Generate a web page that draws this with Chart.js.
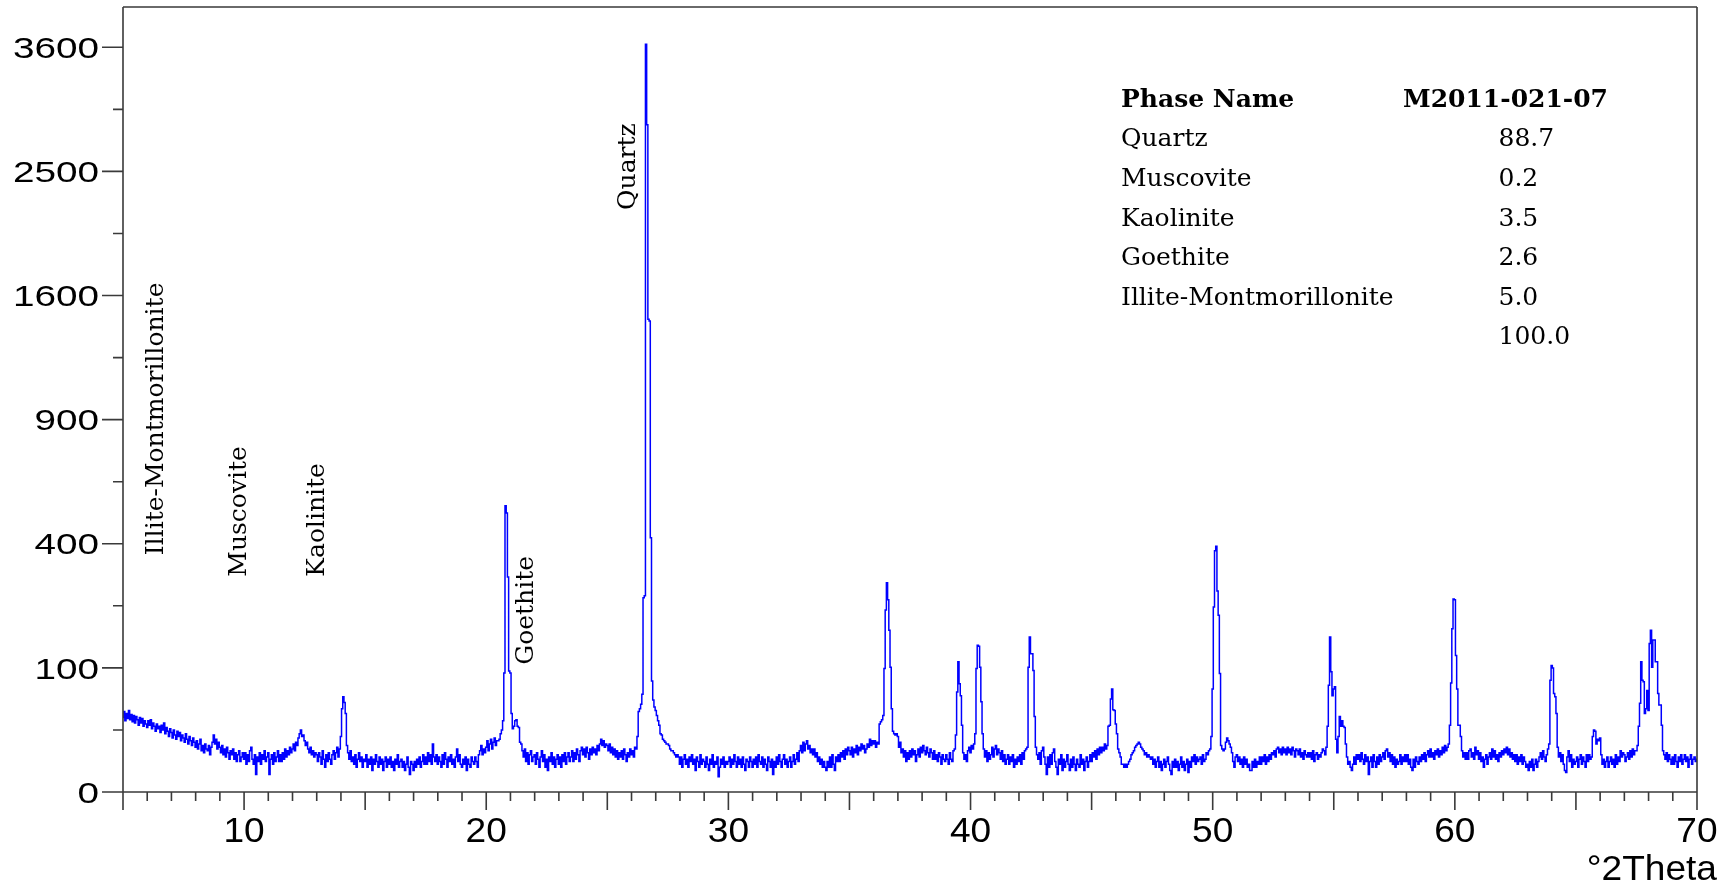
<!DOCTYPE html>
<html>
<head>
<meta charset="utf-8">
<title>XRD pattern M2011-021-07</title>
<script src="https://cdn.jsdelivr.net/npm/chart.js@4/dist/chart.umd.min.js"></script>
<style>
  html, body { margin: 0; padding: 0; background: #ffffff; }
  canvas { display: block; }
</style>
</head>
<body>
<canvas id="xrd" width="1720" height="891"></canvas>
<script>
// ---- scan: counts per 0.05 deg step, 2Theta 5.00 .. 70.00 ----
const scanStart = 5;
const scanStep = 0.05;

const counts05 = [
  36, 42, 33, 40, 35, 43, 34, 39, 32, 38,
  31, 37, 34, 29, 36, 31, 35, 28, 33, 30,
  27, 33, 29, 34, 26, 31, 28, 24, 30, 26,
  28, 23, 29, 25, 31, 22, 27, 24, 20, 26,
  23, 19, 25, 21, 18, 24, 20, 23, 17, 21,
  19, 16, 22, 18, 15, 20, 17, 14, 19, 16,
  13, 17, 12, 15, 18, 11, 14, 10, 15, 12,
  11, 14, 9, 13, 16, 21, 15, 18, 12, 16,
  13, 10, 14, 9, 12, 8, 13, 10, 7, 11,
  9, 12, 7, 10, 6, 9, 11, 6, 8, 10
];
const counts10 = [
  7, 10, 5, 9, 6, 11, 13, 7, 5, 9,
  2, 8, 6, 10, 5, 9, 7, 11, 6, 8,
  10, 2, 7, 9, 5, 10, 6, 8, 11, 6,
  9, 6, 10, 7, 12, 8, 11, 9, 13, 10,
  12, 15, 11, 16, 14, 19, 22, 25, 20, 21,
  17, 14, 16, 12, 10, 13, 9, 11, 8, 10,
  9, 6, 10, 8, 5, 11, 7, 4, 9, 6,
  10, 7, 5, 9, 11, 7, 10, 13, 8, 12,
  20, 45, 59, 52, 40, 14, 10, 7, 11, 6,
  8, 5, 9, 4, 7, 10, 6, 8, 4, 7
];
const counts15 = [
  6, 9, 4, 7, 5, 8, 3, 7, 5, 9,
  6, 4, 8, 5, 7, 3, 6, 8, 4, 7,
  5, 8, 4, 6, 3, 7, 5, 9, 4, 6,
  7, 4, 6, 3, 5, 8, 4, 2, 6, 5,
  3, 6, 4, 7, 5, 8, 4, 6, 9, 5,
  8, 5, 10, 6, 9, 5, 15, 8, 6, 9,
  5, 8, 6, 4, 9, 5, 10, 7, 4, 8,
  6, 9, 5, 7, 4, 8, 12, 6, 9, 5,
  4, 7, 5, 8, 3, 7, 5, 4, 8, 6,
  5, 8, 6, 4, 9, 11, 14, 9, 12, 10
];
const counts20 = [
  13, 17, 11, 15, 18, 12, 16, 19, 14, 17,
  17, 18, 22, 25, 33, 92, 532, 505, 300, 95,
  92, 40, 26, 28, 33, 34, 28, 27, 16, 15,
  11, 8, 12, 6, 10, 5, 9, 11, 6, 8,
  9, 5, 10, 7, 4, 8, 11, 6, 9, 4,
  7, 3, 8, 6, 10, 5, 8, 4, 7, 9,
  5, 8, 4, 9, 6, 10, 5, 8, 10, 6,
  8, 11, 6, 10, 7, 12, 9, 6, 11, 13,
  9, 12, 8, 13, 10, 7, 12, 9, 13, 10,
  12, 9, 14, 11, 15, 18, 14, 17, 13, 15
];
const counts25 = [
  14, 11, 15, 10, 13, 9, 12, 8, 11, 7,
  10, 8, 11, 7, 12, 9, 6, 10, 8, 12,
  9, 11, 8, 13, 12, 20, 42, 45, 50, 62,
  245, 250, 3630, 2890, 1450, 1440, 420, 80, 55, 47,
  43, 38, 33, 29, 22, 21, 18, 17, 16, 15,
  15, 14, 12, 11, 11, 10, 9, 8, 9, 8,
  5, 8, 4, 7, 9, 5, 7, 4, 8, 6,
  9, 5, 7, 3, 8, 6, 4, 9, 5, 7,
  6, 4, 8, 5, 3, 7, 5, 9, 4, 6,
  5, 8, 1.5, 4, 7, 5, 8, 4, 6, 5
];
const counts30 = [
  6, 8, 4, 7, 5, 9, 6, 4, 8, 5,
  7, 4, 8, 5, 3, 7, 6, 4, 8, 6,
  4, 7, 5, 8, 4, 9, 6, 5, 8, 4,
  7, 5, 3, 8, 6, 4, 7, 2, 6, 4,
  8, 5, 9, 6, 4, 7, 9, 5, 7, 4,
  6, 8, 4, 6, 9, 5, 7, 10, 6, 11,
  14, 10, 16, 11, 15, 17, 12, 14, 10, 12,
  9, 12, 8, 10, 6, 8, 5, 7, 4, 6,
  4, 3, 6, 4, 8, 4, 9, 5, 3, 8,
  6, 9, 6, 10, 8, 11, 7, 12, 9, 13
];
const counts35 = [
  11, 9, 13, 8, 12, 10, 14, 9, 13, 11,
  15, 12, 14, 10, 12, 15, 13, 18, 14, 17,
  15, 17, 13, 16, 15, 30, 32, 34, 38, 99,
  215, 284, 240, 170, 101, 45, 24, 22, 21, 22,
  20, 13, 16, 10, 12, 8, 11, 6, 10, 7,
  11, 8, 12, 9, 11, 6, 9, 12, 8, 13,
  10, 14, 11, 9, 13, 10, 8, 12, 10, 7,
  11, 7, 9, 6, 10, 8, 5, 9, 7, 6,
  9, 7, 5, 10, 7, 6, 11, 12, 21, 65,
  110, 76, 60, 29, 10, 7, 9, 6, 11, 13
];
const counts40 = [
  10, 14, 12, 15, 22, 99, 140, 138, 101, 53,
  22, 12, 8, 11, 6, 10, 7, 9, 13, 8,
  12, 14, 9, 12, 10, 7, 11, 6, 9, 5,
  7, 9, 5, 8, 6, 9, 4, 7, 5, 8,
  6, 9, 5, 10, 7, 11, 12, 13, 101, 156,
  124, 124, 96, 37, 13, 9, 7, 10, 5, 11,
  13, 8, 5, 2, 8, 4, 9, 5, 10, 12,
  6, 4, 2, 7, 5, 9, 3, 7, 4, 6,
  9, 5, 3, 7, 4, 8, 5, 3, 7, 5,
  4, 9, 5, 7, 3, 6, 8, 4, 6, 9
];
const counts45 = [
  6, 10, 8, 11, 7, 12, 9, 13, 10, 13,
  11, 15, 12, 14, 28, 29, 56, 69, 44, 43,
  30, 22, 12, 10, 8, 5, 5, 4, 5, 4,
  5, 6, 7, 9, 10, 11, 13, 14, 15, 16,
  15, 13, 12, 11, 9, 10, 8, 9, 8, 7,
  8, 5, 7, 4, 6, 8, 4, 6, 3, 5,
  7, 4, 6, 8, 5, 3, 2, 6, 4, 7,
  4, 6, 3, 5, 8, 4, 6, 3, 5, 7,
  2.5, 6, 4, 8, 6, 9, 5, 8, 6, 7,
  8, 5, 9, 6, 7, 10, 9, 11, 12, 20
];
const counts50 = [
  69, 222, 378, 392, 262, 203, 91, 14, 12, 11,
  12, 16, 19, 17, 15, 13, 10, 6, 4, 8,
  9, 6, 8, 5, 7, 4, 8, 5, 7, 4,
  5, 3, 3, 6, 4, 7, 4, 6, 5, 8,
  5, 8, 6, 9, 5, 8, 6, 9, 7, 10,
  9, 11, 8, 12, 13, 10, 12, 9, 13, 10,
  12, 9, 13, 10, 12, 9, 13, 11, 8, 12,
  11, 9, 12, 8, 10, 7, 11, 9, 8, 10,
  8, 10, 7, 11, 6, 9, 10, 7, 9, 8,
  10, 12, 11, 9, 13, 28, 74, 156, 94, 60
];
const counts55 = [
  69, 72, 18, 10, 20, 37, 28, 33, 28, 27,
  15, 8, 5, 6, 4, 3, 5, 8, 5, 9,
  7, 9, 6, 10, 7, 5, 9, 6, 8, 2,
  6, 8, 4, 9, 6, 4, 8, 5, 9, 6,
  8, 10, 7, 11, 12, 8, 10, 6, 9, 5,
  8, 4, 7, 5, 6, 9, 5, 8, 6, 9,
  6, 9, 5, 7, 4, 3, 7, 4, 8, 6,
  5, 8, 6, 9, 7, 10, 6, 9, 11, 8,
  12, 8, 10, 7, 11, 9, 12, 8, 11, 9,
  13, 10, 14, 11, 13, 15, 29, 77, 173, 242
];
const counts60 = [
  240, 121, 69, 29, 29, 20, 11, 8, 10, 7,
  10, 7, 11, 12, 8, 10, 7, 13, 9, 11,
  7, 10, 6, 8, 4, 7, 9, 5, 8, 10,
  7, 12, 8, 11, 7, 9, 6, 10, 8, 11,
  9, 12, 10, 13, 9, 12, 8, 10, 7, 9,
  6, 9, 5, 8, 6, 9, 5, 8, 6, 4,
  5, 3, 6, 4, 7, 3, 5, 7, 4, 6,
  8, 10, 7, 11, 8, 6, 9, 12, 15, 81,
  104, 100, 63, 59, 40, 13, 8, 10, 6, 9,
  5, 3, 2.5, 8, 11, 6, 9, 4, 7, 5
];
const counts65 = [
  6, 8, 4, 7, 9, 5, 8, 6, 4, 9,
  6, 9, 7, 8, 20, 25, 24, 15, 18, 17,
  19, 9, 5, 7, 4, 6, 8, 4, 6, 8,
  5, 7, 4, 9, 5, 8, 6, 11, 8, 10,
  9, 6, 8, 10, 7, 11, 8, 12, 9, 11,
  11, 14, 28, 51, 110, 81, 79, 40, 45, 67,
  43, 143, 170, 101, 150, 150, 110, 110, 63, 49,
  49, 29, 11, 9, 7, 10, 6, 9, 7, 5,
  8, 5, 9, 6, 4, 8, 6, 9, 5, 7,
  9, 6, 8, 4, 7, 9, 5, 7, 8, 6,
  7
];

// ---- axes ----
const xMin = 5, xMax = 70;
const xTickLabels = [10, 20, 30, 40, 50, 60, 70];
const yMin = 0, yMax = 4000;
const yTickValues = [0, 100, 400, 900, 1600, 2500, 3600];
const yTickLabels = ['0', '100', '400', '900', '1600', '2500', '3600'];
const yMinorValues = [25, 225, 625, 1225, 2025, 3025];

// ---- phase identification ----
const phaseNames = ['Quartz', 'Muscovite', 'Kaolinite', 'Goethite', 'Illite-Montmorillonite'];
const phaseWeights = [88.7, 0.2, 3.5, 2.6, 5.0];
const sampleId = 'M2011-021-07';

// peak labels: text, 2Theta of the text baseline, counts where the text starts
const peakLabelText = ['Illite-Montmorillonite', 'Muscovite', 'Kaolinite', 'Goethite', 'Quartz'];
const peakLabelTheta = [6.66, 10.08, 13.30, 21.94, 26.14];
const peakLabelCounts = [364, 301, 301, 105, 2199];

// ---- square-root intensity axis ----
class SqrtScale extends Chart.LinearScale {
  getPixelForValue(value) {
    const lo = Math.sqrt(Math.max(0, this.min));
    const hi = Math.sqrt(this.max);
    const v = Math.sqrt(Math.max(0, value));
    return this.getPixelForDecimal((v - lo) / (hi - lo));
  }
  getValueForPixel(pixel) {
    const lo = Math.sqrt(Math.max(0, this.min));
    const hi = Math.sqrt(this.max);
    const s = lo + this.getDecimalForPixel(pixel) * (hi - lo);
    return s * s;
  }
}
SqrtScale.id = 'sqrt';
SqrtScale.defaults = Chart.LinearScale.defaults;
Chart.register(SqrtScale);

const counts = [].concat(counts05, counts10, counts15, counts20, counts25, counts30,
  counts35, counts40, counts45, counts50, counts55, counts60, counts65);
const scanPoints = counts.map((c, i) => ({ x: +(scanStart + i * scanStep).toFixed(2), y: c }));

const axisInk = '#3a3a3a';
const textInk = '#000000';

function stretchedText(ctx, text, x, y, sx, align) {
  ctx.save();
  ctx.translate(x, y);
  ctx.scale(sx, 1);
  ctx.textAlign = align;
  ctx.fillText(text, 0, 0);
  ctx.restore();
}

const frameAndLabels = {
  id: 'frameAndLabels',
  afterDraw(chart) {
    const ctx = chart.ctx;
    const xs = chart.scales.x, ys = chart.scales.y;
    const L = xs.getPixelForValue(xMin), R = xs.getPixelForValue(xMax);
    const B = ys.getPixelForValue(yMin), T = ys.getPixelForValue(yMax);
    const yMajorLen = 21, yMinorLen = 10, xMajorLen = 18, xMinorLen = 9;

    ctx.save();
    ctx.strokeStyle = axisInk;
    ctx.lineWidth = 1.6;
    ctx.lineCap = 'butt';
    ctx.beginPath();
    ctx.moveTo(L, T); ctx.lineTo(R, T);
    ctx.moveTo(L - yMajorLen, B); ctx.lineTo(R, B);
    ctx.moveTo(L, T); ctx.lineTo(L, B + xMajorLen);
    ctx.moveTo(R, T); ctx.lineTo(R, B + xMajorLen);
    yTickValues.forEach(v => {
      const y = ys.getPixelForValue(v);
      ctx.moveTo(L - yMajorLen, y); ctx.lineTo(L, y);
    });
    yMinorValues.forEach(v => {
      const y = ys.getPixelForValue(v);
      ctx.moveTo(L - yMinorLen, y); ctx.lineTo(L, y);
    });
    for (let t = xMin + 1; t < xMax; t++) {
      const x = xs.getPixelForValue(t);
      ctx.moveTo(x, B); ctx.lineTo(x, B + (t % 5 === 0 ? xMajorLen : xMinorLen));
    }
    ctx.stroke();

    // tick labels
    ctx.fillStyle = textInk;
    ctx.textBaseline = 'alphabetic';
    ctx.font = '30px "Liberation Sans", Arial, sans-serif';
    yTickValues.forEach((v, i) => {
      stretchedText(ctx, yTickLabels[i], L - 24, ys.getPixelForValue(v) + 10.7, 1.29, 'right');
    });
    ctx.font = '35px "Liberation Sans", Arial, sans-serif';
    xTickLabels.forEach(v => {
      stretchedText(ctx, String(v), xs.getPixelForValue(v), B + 50, 1.06, 'center');
    });
    stretchedText(ctx, '\u00b02Theta', 1717, B + 88, 1.06, 'right');

    // peak labels, rotated
    ctx.font = '25px "DejaVu Serif", serif';
    peakLabelText.forEach((txt, i) => {
      ctx.save();
      ctx.translate(xs.getPixelForValue(peakLabelTheta[i]), ys.getPixelForValue(peakLabelCounts[i]));
      ctx.rotate(-Math.PI / 2);
      ctx.textAlign = 'left';
      ctx.fillText(txt, 0, 0);
      ctx.restore();
    });

    // phase table
    const colName = 1121, colSample = 1403, colWt = 1498.5;
    const row0 = 106.7, rowGap = 39.6;
    ctx.textAlign = 'left';
    ctx.font = 'bold 25px "DejaVu Serif", serif';
    ctx.fillText('Phase Name', colName, row0);
    ctx.fillText(sampleId, colSample, row0);
    ctx.font = '25px "DejaVu Serif", serif';
    phaseNames.forEach((name, i) => {
      const y = row0 + rowGap * (i + 1);
      ctx.fillText(name, colName, y);
      ctx.fillText(phaseWeights[i].toFixed(1), colWt, y);
    });
    const total = phaseWeights.reduce((a, b) => a + b, 0);
    ctx.fillText(total.toFixed(1), colWt, row0 + rowGap * (phaseNames.length + 1));
    ctx.restore();
  }
};

new Chart(document.getElementById('xrd'), {
  type: 'line',
  data: {
    datasets: [{
      label: sampleId,
      data: scanPoints,
      borderColor: '#0000ff',
      borderWidth: 1.5,
      pointRadius: 0,
      stepped: 'middle',
      fill: false
    }]
  },
  options: {
    responsive: false,
    animation: false,
    events: [],
    layout: { padding: { left: 123, right: 23, top: 7, bottom: 99 } },
    plugins: { legend: { display: false }, tooltip: { enabled: false } },
    scales: {
      x: { type: 'linear', min: xMin, max: xMax, display: false },
      y: { type: 'sqrt', min: yMin, max: yMax, display: false }
    }
  },
  plugins: [frameAndLabels]
});
</script>
</body>
</html>
